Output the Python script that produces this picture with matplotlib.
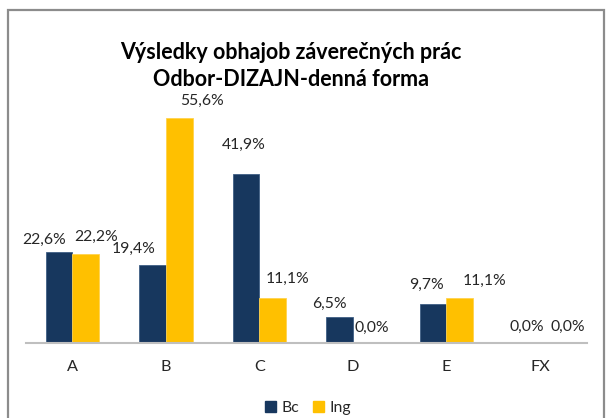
import matplotlib
matplotlib.use("Agg")
import matplotlib.pyplot as plt
import matplotlib.patches as mpatches
import numpy as np

categories = ["A", "B", "C", "D", "E", "FX"]
bc_values = [22.6, 19.4, 41.9, 6.5, 9.7, 0.0]
ing_values = [22.2, 55.6, 11.1, 0.0, 11.1, 0.0]
series_names = ["Bc", "Ing"]
title_lines = ["Výsledky obhajob záverečných prác", "Odbor-DIZAJN-denná forma"]

# label placement offsets (pixels): dx from bar centre, dy of baseline above bar top
bc_label_dx = [-15, -18.5, -2, -9.7, -6.3, 0]
bc_label_dy = [8.3, 12, 25, 8.7, 15.3, 12]
ing_label_dx = [10, 23, 15, 5.7, 24.5, 14.8]
ing_label_dy = [12.7, 13.6, 16, 11.3, 13.7, 12]

W, H = 606, 418
plt.rcParams['font.family'] = ['Lato', 'DejaVu Sans']
fig = plt.figure(figsize=(W / 100, H / 100), dpi=100)
fig.patch.set_facecolor("white")

ax = fig.add_axes([25.5 / W, (H - 343.3) / H, (586.7 - 25.5) / W, (343.3 - 100.6) / H])
x = np.arange(len(categories))
bw = 0.2857
c_bc = "#17375E"
c_ing = "#FFC000"
fs = 11.3
b1 = ax.bar(x - bw / 2, bc_values, bw, color=c_bc, edgecolor="#3F5F85", linewidth=0.6)
b2 = ax.bar(x + bw / 2, ing_values, bw, color=c_ing, edgecolor="#FFD24D", linewidth=0.6)
ax.set_xlim(-0.5, len(categories) - 0.5)
ax.set_ylim(0, 60)
ax.set_yticks([])
ax.set_xticks(x)
ax.set_xticklabels(categories, fontsize=fs + 0.4, color="#262626")
ax.tick_params(axis="x", length=0, pad=12)
for s in ["top", "right", "left"]:
    ax.spines[s].set_visible(False)
ax.spines["bottom"].set_color("#BFBFBF")
ax.spines["bottom"].set_linewidth(1.5)

def fmt(v):
    return f"{v:.1f}".replace(".", ",") + "%"

for i, v in enumerate(bc_values):
    ax.annotate(fmt(v), (x[i] - bw / 2, v), xytext=(bc_label_dx[i], bc_label_dy[i]),
                textcoords="offset pixels", ha="center", va="baseline",
                fontsize=fs, color="#262626")
for i, v in enumerate(ing_values):
    ax.annotate(fmt(v), (x[i] + bw / 2, v), xytext=(ing_label_dx[i], ing_label_dy[i]),
                textcoords="offset pixels", ha="center", va="baseline",
                fontsize=fs, color="#262626")

fig.text(291 / W, 1 - 59.3 / H, title_lines[0], ha="center", va="baseline",
         fontsize=15.5, fontweight="bold", color="black")
fig.text(291 / W, 1 - 86 / H, title_lines[1], ha="center", va="baseline",
         fontsize=15.5, fontweight="bold", color="black")

handles = [mpatches.Patch(color=c_bc), mpatches.Patch(color=c_ing)]
fig.legend(handles, series_names, loc="center", bbox_to_anchor=(308 / W, 1 - 408 / H),
           ncol=2, frameon=False, handlelength=0.7, handleheight=0.7,
           columnspacing=0.9, handletextpad=0.35, fontsize=fs,
           labelcolor="#262626")

border = mpatches.Rectangle((7.5 / W, 0 - 0.05), (604 - 7.5) / W, (H - 10) / H + 0.05,
                            transform=fig.transFigure, fill=False,
                            edgecolor="#8C8C8C", linewidth=1.6, clip_on=False)
fig.patches.append(border)

fig.savefig("out.png", dpi=100, facecolor="white")
